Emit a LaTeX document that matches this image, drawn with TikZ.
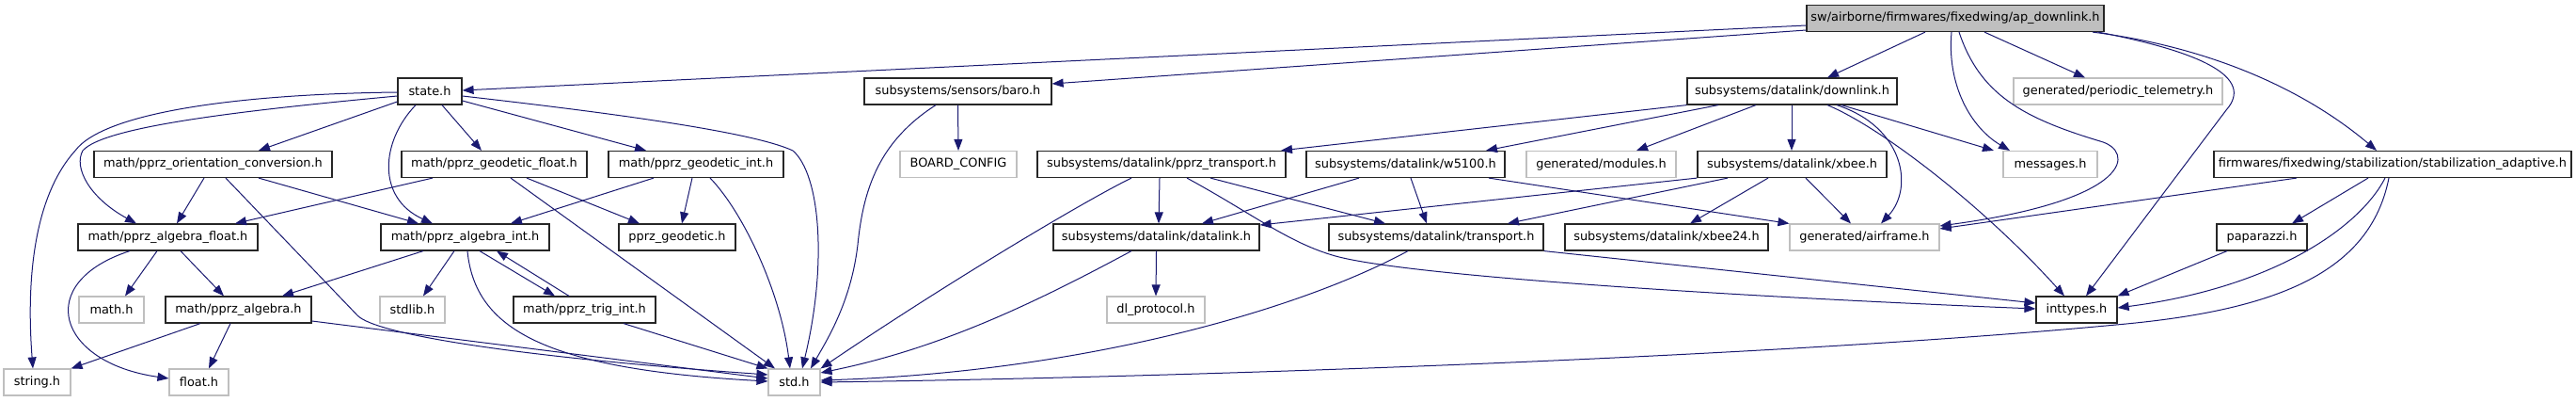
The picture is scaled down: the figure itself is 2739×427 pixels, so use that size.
\documentclass[tikz,border=0pt]{standalone}
\usepackage{fontspec}
\setmainfont{DejaVu Sans}
\usetikzlibrary{arrows.meta}
\definecolor{edgec}{HTML}{191970}
\definecolor{gbord}{HTML}{BFBFBF}
\definecolor{apfill}{HTML}{BFBFBF}
\definecolor{bbord}{HTML}{262626}
\tikzset{
 base/.style={rectangle, inner sep=0pt, minimum height=28pt, font=\fontsize{12.9}{15}\selectfont, text=black},
 blk/.style={base, draw=bbord, line width=1.2pt},
 gry/.style={base, draw=gbord, line width=1.1pt},
 apbox/.style={base, draw=bbord, fill=apfill, line width=1.2pt},
 ar/.style={draw=edgec, line width=1pt, -{Triangle[length=12pt,width=9pt]}}
}
\newcommand\nd[6]{\node[#5, minimum width=#3pt] (#1) at (#2,#4) {#6};}
\begin{document}
\begin{tikzpicture}[x=1pt,y=-1pt]
\useasboundingbox (0,0) rectangle (2739,427);
% row 1
\nd{ap}{2079}{316}{19.5}{apbox}{sw/airborne/firmwares/fixedwing/ap\_downlink.h}
% row 2
\nd{state}{457}{68}{97}{blk}{state.h}
\nd{baro}{1018.5}{199}{97}{blk}{subsystems/sensors/baro.h}
\nd{downlink}{1905.5}{223}{97}{blk}{subsystems/datalink/downlink.h}
\nd{periodic}{2252}{222}{97}{gry}{generated/periodic\_telemetry.h}
% row 3
\nd{orient}{226.5}{253}{174.5}{blk}{math/pprz\_orientation\_conversion.h}
\nd{geofloat}{525.5}{197}{174.5}{blk}{math/pprz\_geodetic\_float.h}
\nd{geoint}{740}{186}{174.5}{blk}{math/pprz\_geodetic\_int.h}
\nd{board}{1019}{124}{174.5}{gry}{BOARD\_CONFIG}
\nd{pprztr}{1235}{264}{174.5}{blk}{subsystems/datalink/pprz\_transport.h}
\nd{w5100}{1494.5}{211}{174.5}{blk}{subsystems/datalink/w5100.h}
\nd{modules}{1702.5}{159}{174.5}{gry}{generated/modules.h}
\nd{xbee}{1905.5}{201}{174.5}{blk}{subsystems/datalink/xbee.h}
\nd{messages}{2180}{100}{174.5}{gry}{messages.h}
\nd{stab}{2544}{380}{174.5}{blk}{firmwares/fixedwing/stabilization/stabilization\_adaptive.h}
% row 4
\nd{algfloat}{178.5}{191}{252}{blk}{math/pprz\_algebra\_float.h}
\nd{algint}{494.5}{179}{252}{blk}{math/pprz\_algebra\_int.h}
\nd{geodetic}{720}{124}{252}{blk}{pprz\_geodetic.h}
\nd{datalink}{1229.5}{219}{252}{blk}{subsystems/datalink/datalink.h}
\nd{transport}{1527}{228}{252}{blk}{subsystems/datalink/transport.h}
\nd{xbee24}{1772}{216}{252}{blk}{subsystems/datalink/xbee24.h}
\nd{airframe}{1982.5}{159}{252}{gry}{generated/airframe.h}
\nd{paparazzi}{2405}{96}{252}{blk}{paparazzi.h}
% row 5
\nd{mathh}{118.5}{69}{329}{gry}{math.h}
\nd{alg}{253.5}{155}{329}{blk}{math/pprz\_algebra.h}
\nd{stdlib}{438.5}{69}{329}{gry}{stdlib.h}
\nd{trig}{621.5}{151}{329}{blk}{math/pprz\_trig\_int.h}
\nd{dlproto}{1229}{104}{329}{gry}{dl\_protocol.h}
\nd{inttypes}{2208}{86}{329}{blk}{inttypes.h}
% row 6
\nd{string}{39.5}{71}{406}{gry}{string.h}
\nd{float}{211.5}{63}{406}{gry}{float.h}
\nd{std}{844.5}{55}{406}{gry}{std.h}

% edges from ap_downlink
\draw[ar] (ap.west |- 0,27) -- (state.east |- 0,96);
\draw[ar] (ap.west |- 0,32) -- (baro.east |- 0,89);
\draw[ar] (2047,0 |- ap.south) -- (1943,0 |- downlink.north);
\draw[ar] (2075,0 |- ap.south) .. controls (2070,90) and (2095,135) .. (2137,0 |- messages.north);
\draw[ar] (2083,0 |- ap.south) .. controls (2105,100) and (2150,125) .. (2233,150) .. controls (2270,160) and (2270,212) .. (airframe.east |- 0,240);
\draw[ar] (2110,0 |- ap.south) -- (2217,0 |- periodic.north);
\draw[ar] (2225,0 |- ap.south) .. controls (2350,50) and (2450,95) .. (2527,0 |- stab.north);
\draw[ar] (2231,0 |- ap.south) .. controls (2340,55) and (2398,82) .. (2367,117) -- (2218,0 |- inttypes.north);
% edges from state.h
\draw[ar] (state.west |- 0,98) .. controls (250,100) and (110,120) .. (80,160) .. controls (35,210) and (28,300) .. (35,0 |- string.north);
\draw[ar] (state.west |- 0,102) .. controls (250,118) and (110,135) .. (88,160) .. controls (78,178) and (95,210) .. (145,0 |- algfloat.north);
\draw[ar] (state.west |- 0,108) -- (275,0 |- orient.north);
\draw[ar] (442,0 |- state.south) .. controls (405,150) and (400,210) .. (460,0 |- algint.north);
\draw[ar] (470,0 |- state.south) -- (512,0 |- geofloat.north);
\draw[ar] (state.east |- 0,107) -- (687,0 |- geoint.north);
\draw[ar] (state.east |- 0,102) .. controls (650,120) and (800,140) .. (843,160) .. controls (872,185) and (880,280) .. (853,0 |- std.north);
% orientation conversion
\draw[ar] (217,0 |- orient.south) -- (188,0 |- algfloat.north);
\draw[ar] (275,0 |- orient.south) -- (445,0 |- algint.north);
\draw[ar] (240,0 |- orient.south) -- (380,335) .. controls (400,356) and (560,380) .. (std.west |- 0,398);
% algebra float
\draw[ar] (167,0 |- algfloat.south) -- (133,0 |- mathh.north);
\draw[ar] (192,0 |- algfloat.south) -- (238,0 |- alg.north);
\draw[ar] (138,0 |- algfloat.south) .. controls (35,300) and (60,385) .. (float.west |- 0,402);
% algebra
\draw[ar] (213,0 |- alg.south) -- (string.north east);
\draw[ar] (245,0 |- alg.south) -- (222,0 |- float.north);
\draw[ar] (alg.east |- 0,341) -- (std.west |- 0,402);
% algebra int
\draw[ar] (450,0 |- algint.south) -- (300,0 |- alg.north);
\draw[ar] (483,0 |- algint.south) -- (450,0 |- stdlib.north);
\draw[ar] (497,0 |- algint.south) .. controls (505,350) and (580,392) .. (std.west |- 0,405);
\draw[ar] (510,0 |- algint.south) -- (590,0 |- trig.north);
\draw[ar] (605,0 |- trig.north) -- (528,0 |- algint.south);
\draw[ar] (663,0 |- trig.south) -- (std.north west);
% geodetic float / int
\draw[ar] (460,0 |- geofloat.south) -- (250,0 |- algfloat.north);
\draw[ar] (560,0 |- geofloat.south) -- (680,0 |- geodetic.north);
\draw[ar] (543,0 |- geofloat.south) -- (824,0 |- std.north);
\draw[ar] (695,0 |- geoint.south) -- (543,0 |- algint.north);
\draw[ar] (736,0 |- geoint.south) -- (725,0 |- geodetic.north);
\draw[ar] (755,0 |- geoint.south) .. controls (790,225) and (830,310) .. (840,0 |- std.north);
% baro
\draw[ar] (baro.south) -- (board.north);
\draw[ar] (995,0 |- baro.south) .. controls (935,150) and (918,200) .. (912,260) .. controls (905,320) and (880,360) .. (862,0 |- std.north);
% downlink
\draw[ar] (downlink.south west) -- (1362,0 |- pprztr.north);
\draw[ar] (1827,0 |- downlink.south) -- (1580,0 |- w5100.north);
\draw[ar] (1867,0 |- downlink.south) -- (1740,0 |- modules.north);
\draw[ar] (1905,0 |- downlink.south) -- (1905,0 |- xbee.north);
\draw[ar] (1958,0 |- downlink.south) -- (2120,0 |- messages.north);
\draw[ar] (1953,0 |- downlink.south) .. controls (2025,135) and (2035,200) .. (2000,0 |- airframe.north);
\draw[ar] (1943,0 |- downlink.south) .. controls (2000,135) and (2110,220) .. (2195,0 |- inttypes.north);
% pprz_transport
\draw[ar] (1203,0 |- pprztr.south) .. controls (1150,215) and (1000,305) .. (std.north east);
\draw[ar] (1233,0 |- pprztr.south) -- (1232,0 |- datalink.north);
\draw[ar] (1287,0 |- pprztr.south) -- (1473,0 |- transport.north);
\draw[ar] (1262,0 |- pprztr.south) .. controls (1330,226) and (1370,258) .. (1420,272) .. controls (1500,294) and (1865,316) .. (inttypes.west |- 0,328);
% datalink
\draw[ar] (datalink.south) -- (dlproto.north);
\draw[ar] (1203,0 |- datalink.south) .. controls (1100,322) and (1000,370) .. (std.east |- 0,396);
% transport
\draw[ar] (1497,0 |- transport.south) .. controls (1380,330) and (1150,395) .. (std.east |- 0,404);
\draw[ar] (transport.south east) -- (inttypes.west |- 0,322);
% w5100
\draw[ar] (1445,0 |- w5100.south) -- (1278,0 |- datalink.north);
\draw[ar] (1500,0 |- w5100.south) -- (1517,0 |- transport.north);
\draw[ar] (1583,0 |- w5100.south) -- (airframe.north west);
% xbee
\draw[ar] (xbee.south west) -- (datalink.east |- 0,239);
\draw[ar] (1837,0 |- xbee.south) -- (1603,0 |- transport.north);
\draw[ar] (1880,0 |- xbee.south) -- (1797,0 |- xbee24.north);
\draw[ar] (1920,0 |- xbee.south) -- (1968,0 |- airframe.north);
% stabilization adaptive
\draw[ar] (2442,0 |- stab.south) -- (airframe.east |- 0,243);
\draw[ar] (2518,0 |- stab.south) -- (2437,0 |- paparazzi.north);
\draw[ar] (2536,0 |- stab.south) .. controls (2510,240) and (2420,305) .. (inttypes.east |- 0,327);
\draw[ar] (2540,0 |- stab.south) .. controls (2520,290) and (2420,330) .. (2250,345) .. controls (1900,378) and (1300,400) .. (std.east |- 0,406);
% paparazzi
\draw[ar] (2368,0 |- paparazzi.south) -- (inttypes.north east);
\end{tikzpicture}
\end{document}
